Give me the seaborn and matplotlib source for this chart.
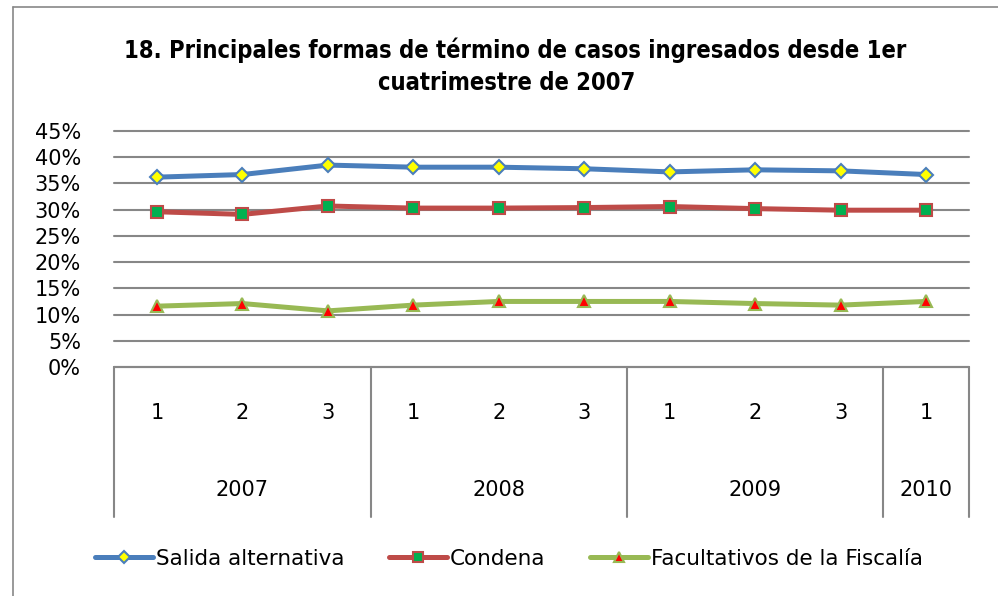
"""Principales formas de término de casos ingresados, por cuatrimestre 2007-2010."""
import matplotlib
matplotlib.use("Agg")
import matplotlib.pyplot as plt
import pandas as pd
import seaborn as sns

periodos = ["1", "2", "3", "1", "2", "3", "1", "2", "3", "1"]
anios = ["2007", "2008", "2009", "2010"]
anio_span = [3, 3, 3, 1]

salida_alternativa = [36.2, 36.7, 38.5, 38.1, 38.1, 37.8, 37.2, 37.6, 37.4, 36.7]
condena = [29.6, 29.1, 30.7, 30.3, 30.3, 30.4, 30.6, 30.2, 29.9, 29.9]
facultativos = [11.6, 12.1, 10.7, 11.8, 12.5, 12.5, 12.5, 12.1, 11.8, 12.5]

series = {
    "Salida alternativa": salida_alternativa,
    "Condena": condena,
    "Facultativos de la Fiscalía": facultativos,
}
estilos = {
    "Salida alternativa": dict(color="#4A7EBB", marker="D", ms=7, mfc="#FFFF00", mec="#4A7EBB"),
    "Condena": dict(color="#BE4B48", marker="s", ms=8.5, mfc="#00B050", mec="#BE4B48"),
    "Facultativos de la Fiscalía": dict(color="#98B954", marker="^", ms=8.5, mfc="#FF0000", mec="#98B954"),
}

rows = []
for nombre, vals in series.items():
    for i, v in enumerate(vals):
        rows.append({"serie": nombre, "idx": i, "valor": v / 100})
df = pd.DataFrame(rows)

sns.set_style("white")
plt.rcParams["font.family"] = ["DejaVu Sans"]
plt.rcParams["text.color"] = "black"
plt.rcParams["ytick.color"] = "black"
GRID = "#878787"

fig = plt.figure(figsize=(9.98, 5.96), dpi=100)
ax = fig.add_axes([114.3 / 998, 229 / 596, 854.4 / 998, 236 / 596])

for nombre in series:
    sub = df[df["serie"] == nombre]
    st = estilos[nombre]
    sns.lineplot(data=sub, x="idx", y="valor", ax=ax, color=st["color"], lw=3.6,
                 marker=st["marker"], markersize=st["ms"], markerfacecolor=st["mfc"],
                 markeredgecolor=st["mec"], markeredgewidth=1.5, label=nombre,
                 legend=False, zorder=3)

ax.set_xlim(-0.5, len(periodos) - 0.5)
ax.set_ylim(0, 0.45)
ax.set_yticks([i * 0.05 for i in range(10)])
ax.set_yticklabels([f"{i * 5}%" for i in range(10)], fontsize=15, color="black")
ax.tick_params(axis="y", length=0, pad=24)
ax.set_xticks([])
ax.set_xlabel("")
ax.set_ylabel("")
ax.yaxis.grid(True, color=GRID, lw=1.5)
for gl in ax.get_ygridlines():
    gl.set_clip_on(False)
for s in ax.spines.values():
    s.set_visible(False)

# multi-level category axis
trans = ax.get_xaxis_transform()
for i, p in enumerate(periodos):
    ax.text(i, -0.195, p, transform=trans, ha="center", va="center", fontsize=15)
bordes = [-0.5]
pos = -0.5
for a, n in zip(anios, anio_span):
    ax.text(pos + n / 2, -0.52, a, transform=trans, ha="center", va="center", fontsize=15)
    pos += n
    bordes.append(pos)
for b in bordes:
    ax.plot([b, b], [0, -0.636], transform=trans, color=GRID, lw=1.5, clip_on=False)
ax.plot([-0.5, len(periodos) - 0.5], [0, 0], transform=trans, color=GRID, lw=1.5, clip_on=False)

fig.text(0.516, 0.916, "18. Principales formas de término de casos ingresados desde 1er",
         ha="center", va="center", fontsize=17, fontweight="bold", fontstretch="condensed")
fig.text(0.508, 0.861, "cuatrimestre de 2007", ha="center", va="center", fontsize=17,
         fontweight="bold", fontstretch="condensed")

# chart frame (left and top edges visible)
fig.add_artist(plt.Line2D([13 / 998, 13 / 998], [0, 1 - 7 / 596], color=GRID, lw=1.2))
fig.add_artist(plt.Line2D([13 / 998, 1], [1 - 7 / 596, 1 - 7 / 596], color=GRID, lw=1.2))

handles, labels = ax.get_legend_handles_labels()
fig.legend(handles, labels, loc="center", bbox_to_anchor=(0.51, 1 - 559 / 596), ncol=3,
           frameon=False, fontsize=15.5, handlelength=2.7, handletextpad=0.1,
           columnspacing=2.1, markerscale=0.9)

fig.savefig("out.png", dpi=100)
plt.close(fig)
